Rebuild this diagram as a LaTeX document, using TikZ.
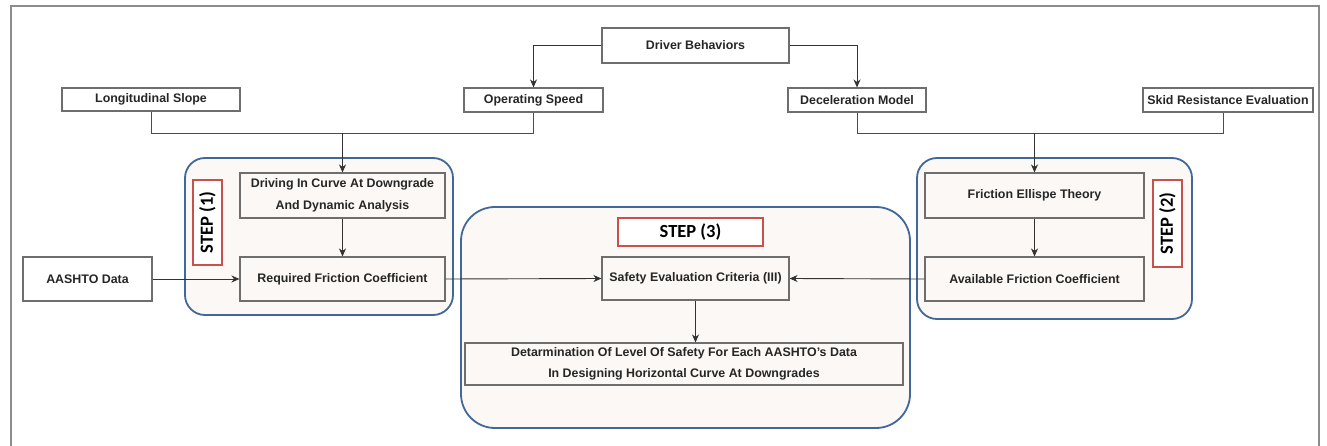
\documentclass[tikz,border=0pt]{standalone}
\usepackage{fontspec}
\setmainfont{Liberation Sans}
\newfontfamily\stepfont{Carlito}
\usetikzlibrary{arrows.meta}
\definecolor{framegray}{HTML}{8C8C8C}
\definecolor{boxgray}{HTML}{6E6E6E}
\definecolor{stepblue}{HTML}{41689A}
\definecolor{stepfill}{HTML}{FBF8F5}
\definecolor{stepred}{HTML}{C8504D}
\tikzset{
	box/.style={draw=boxgray, line width=1.1pt, fill=white, inner sep=0pt, align=center, text=black!85,
		font=\fontsize{12.4}{21.5}\selectfont\bfseries},
	inbox/.style={box, fill=stepfill},
	stepframe/.style={draw=stepblue, line width=1.8pt, fill=stepfill},
	steplabel/.style={draw=stepred, line width=1.6pt, fill=white, inner sep=0pt,
		font=\fontsize{18.5}{20}\selectfont\stepfont\bfseries},
	link/.style={draw=black!80, line width=0.9pt, -{Stealth[length=8pt,width=7pt,inset=2.5pt]}},
	wire/.style={draw=black!70, line width=0.9pt}
}
\begin{document}
\begin{tikzpicture}[x=1pt,y=-1pt]
	\useasboundingbox (0,0) rectangle (1327,446);
	\draw[framegray, line width=1.5pt] (11,446) -- (11,6) -- (1319,6) -- (1319,446);
	\draw[stepframe, rounded corners=20] (185,158) rectangle (453,315);
	\draw[stepframe, rounded corners=20] (917,158) rectangle (1192,319);
	\draw[stepframe, rounded corners=34] (461,207) rectangle (910,428);
	\node[box, minimum width=187, minimum height=35] (drv) at (695.5,45.5) {Driver Behaviors};
	\node[box, minimum width=139, minimum height=24] (opspeed) at (533.5,100) {Operating Speed};
	\node[box, minimum width=138, minimum height=24] (decel) at (857,100) {Deceleration Model};
	\node[box, minimum width=178, minimum height=23] (slope) at (151,99.5) {Longitudinal Slope};
	\node[box, minimum width=170, minimum height=24] (skid) at (1228,100) {Skid Resistance Evaluation};
	\node[inbox, minimum width=205, minimum height=45] (drive) at (342.5,195.5) {Driving In Curve At Downgrade\\And Dynamic Analysis};
	\node[inbox, minimum width=205, minimum height=44] (req) at (342.5,279) {Required Friction Coefficient};
	\node[box, minimum width=129, minimum height=44] (aashto) at (87.5,279) {AASHTO Data};
	\node[inbox, minimum width=187, minimum height=43] (safety) at (695.5,278.5) {Safety Evaluation Criteria (III)};
	\node[inbox, minimum width=438, minimum height=42] (determ) at (684,364) {Detarmination Of Level Of Safety For Each AASHTO's Data\\In Designing Horizontal Curve At Downgrades};
	\node[inbox, minimum width=219, minimum height=45] (ellipse) at (1034.5,195.5) {Friction Ellispe Theory};
	\node[inbox, minimum width=219, minimum height=44] (avail) at (1034.5,279) {Available Friction Coefficient};
	\node[steplabel, rotate=90, minimum width=85, minimum height=29] (step1) at (207.5,222.5) {STEP (1)};
	\node[steplabel, rotate=90, minimum width=87, minimum height=29] (step2) at (1167.5,223.5) {STEP (2)};
	\node[steplabel, minimum width=145, minimum height=28] (step3) at (690.5,232) {STEP (3)};
	\coordinate (joinl) at (342.5,133);
	\coordinate (joinr) at (1034.5,133);
	\draw[link] (drv.west) -| (opspeed.north);
	\draw[link] (drv.east) -| (decel.north);
	\draw[wire] (slope.south) |- (joinl);
	\draw[wire] (opspeed.south) |- (joinl);
	\draw[wire] (decel.south) |- (joinr);
	\draw[wire] ([xshift=-5]skid.south) |- (joinr);
	\draw[link] (joinl) -- (drive.north);
	\draw[link] (joinr) -- (ellipse.north);
	\draw[link] (drive.south) -- (req.north);
	\draw[link] (ellipse.south) -- (avail.north);
	\draw[link] (aashto.east) -- (req.west);
	\draw[link] (req.east) -- (safety.west);
	\draw[link] (avail.west) -- (safety.east);
	\draw[link] (safety.south) -- (safety.south |- determ.north);
\end{tikzpicture}
\end{document}
